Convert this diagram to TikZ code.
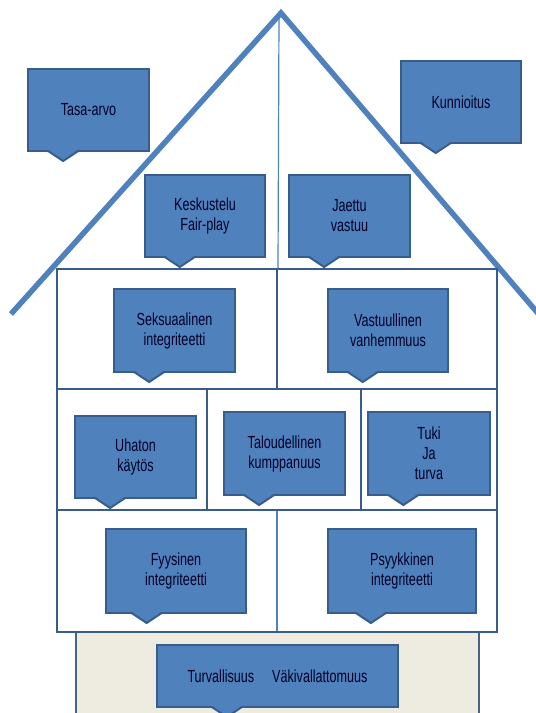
\documentclass[tikz,border=0pt]{standalone}
\usepackage{fontspec}
\setmainfont{Liberation Sans}[FakeStretch=0.72]
\usetikzlibrary{shapes, calc}

\definecolor{sininen}{HTML}{4F81BD}
\definecolor{tumma}{HTML}{385D8A}
\definecolor{beige}{HTML}{EEECE1}

\begin{document}
\begin{tikzpicture}[x=1pt, y=-1pt, line join=miter]
\tikzstyle{kupla}=[rectangle, fill=sininen, draw=tumma, line width=2pt, outer sep=0pt,
  text=black!85!blue, align=center, inner sep=2pt, font=\fontsize{17.5}{20}\selectfont]
\tikzset{koko/.style 2 args={kupla, minimum width=#1pt, minimum height=#2pt}}
\tikzstyle{huone}=[draw=tumma, line width=2pt, fill=white]
\tikzstyle{katto}=[draw=sininen, line width=5.5pt]
\tikzstyle{ohut}=[draw=sininen, line width=1.2pt]

\clip (0,0) rectangle (536,713);

% katto
\draw[katto] (11,314) -- (281,13) -- (542,318);
\draw[ohut] (279,16) -- (278,269);

% perusta
\draw[draw=tumma!80!gray, line width=2pt, fill=beige] (76,720) -- (76,632) -- (479,632) -- (479,720);

% seinat
\draw[huone] (57,269) rectangle (277,389);
\draw[huone] (277,269) rectangle (497,389);
\draw[huone] (57,389) rectangle (207,510);
\draw[huone] (207,389) rectangle (361,510);
\draw[huone] (361,389) rectangle (497,510);
\draw[huone] (57,510) rectangle (497,632);
\draw[ohut] (277,511) -- (277,631);

% kuplat
\node[koko={121}{82}] (T) at (88.5,110) {Tasa-arvo};
\node[koko={120}{82}] (K) at (461,102) {Kunnioitus};
\node[koko={120}{82}] (F) at (205,216) {Keskustelu\\Fair-play};
\node[koko={121}{82}] (J) at (349.5,216) {Jaettu\\vastuu};
\node[koko={121}{83}] (S) at (174.5,330.5) {Seksuaalinen\\integriteetti};
\node[koko={120}{83}] (V) at (388,330.5) {Vastuullinen\\vanhemmuus};
\node[koko={121}{82}] (U) at (135.5,457) {Uhaton\\käytös};
\node[koko={121}{83}] (L) at (284.5,453.5) {Taloudellinen\\kumppanuus};
\node[koko={122}{83}] (R) at (429,453.5) {Tuki\\Ja\\turva};
\node[koko={140}{84}] (Y) at (176,571) {Fyysinen\\integriteetti};
\node[koko={148}{84}] (P) at (402,571) {Psyykkinen\\integriteetti};
\node[koko={241}{62}] (W) at (277.5,676) {Turvallisuus\hspace{18pt}Väkivallattomuus};

% kuplien karjet
\foreach \n in {T,K,F,J,S,V,U,L,R,Y,P,W}{
  \coordinate (k) at ($(\n.south west)!0.29!(\n.south east)$);
  \fill[sininen] ([xshift=-15pt,yshift=1.5pt]k) -- ([yshift=-10pt]k) -- ([xshift=15pt,yshift=1.5pt]k) -- cycle;
  \draw[tumma, line width=2pt] ([xshift=-16pt]k) -- ([xshift=-15pt]k) -- ([yshift=-10pt]k) -- ([xshift=15pt]k) -- ([xshift=16pt]k);
}

\end{tikzpicture}
\end{document}
